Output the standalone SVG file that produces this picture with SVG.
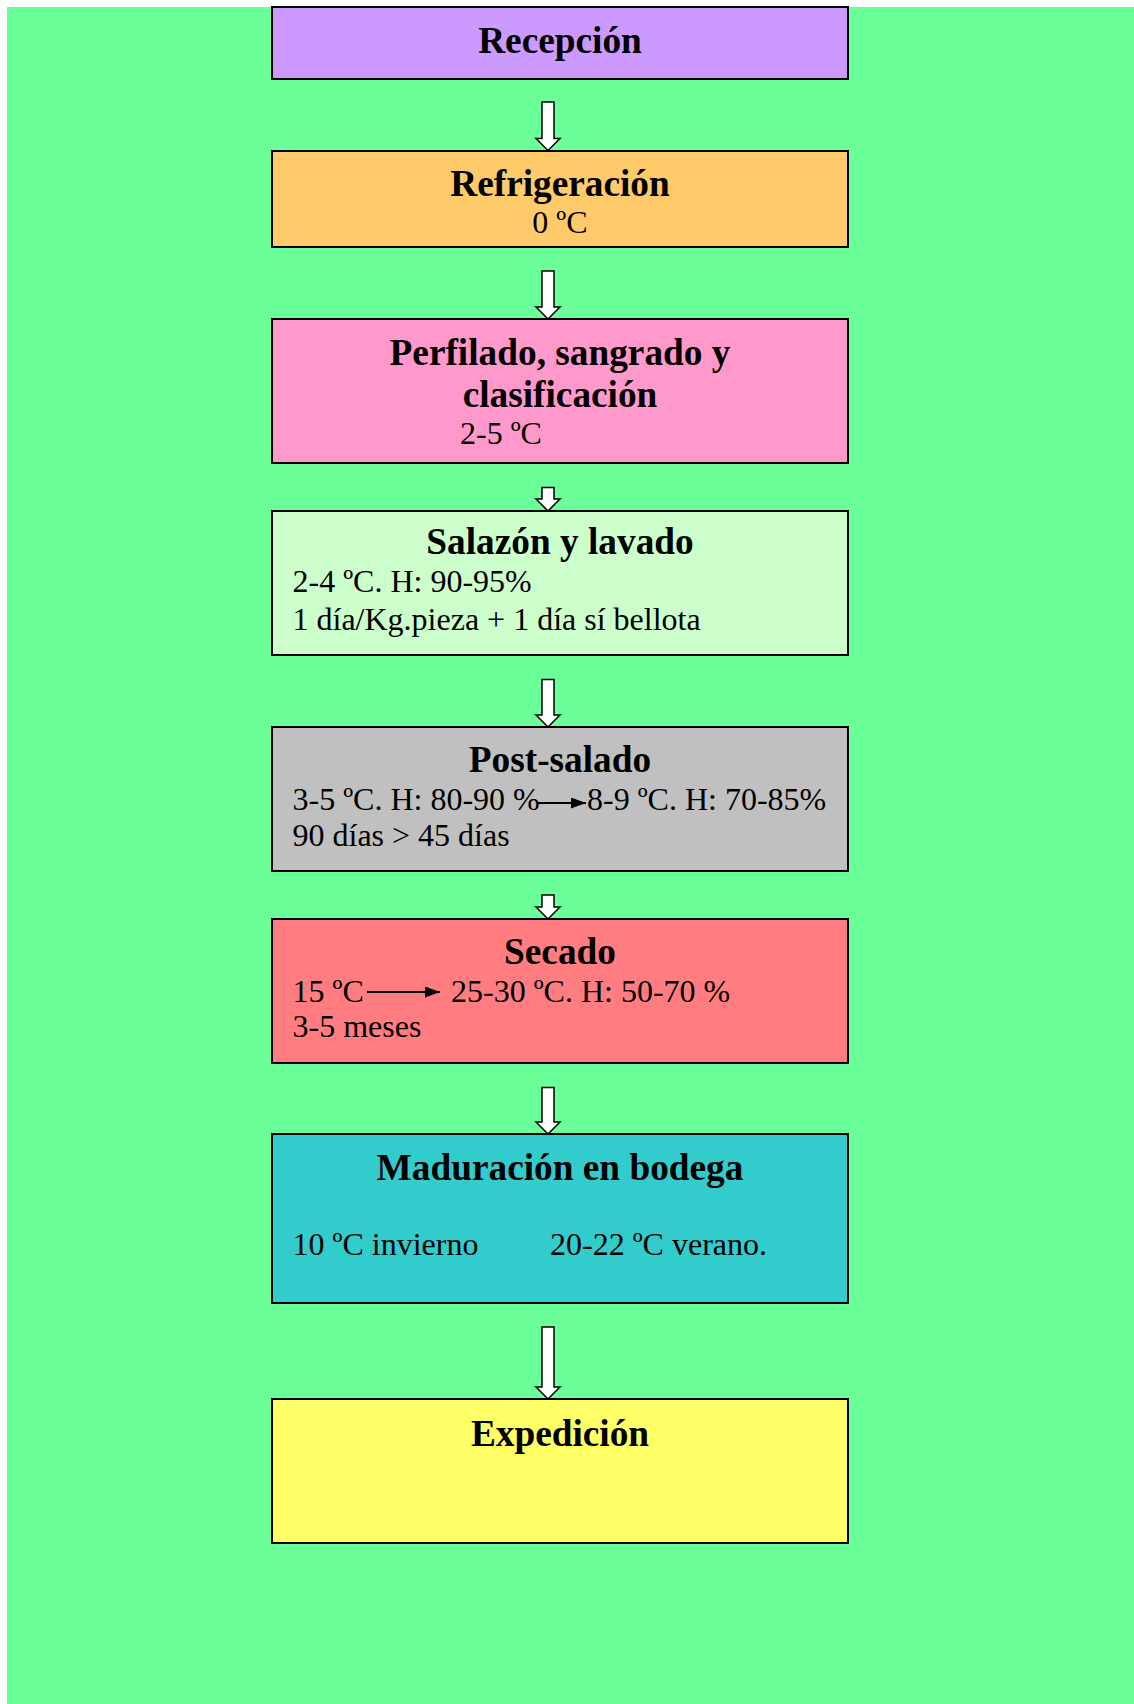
<svg xmlns="http://www.w3.org/2000/svg" width="1134" height="1704" viewBox="0 0 1134 1704">
<defs>
<style>
.box{stroke:#000;stroke-width:2}
.t{font-family:"Liberation Serif","Times New Roman",serif;font-weight:bold;font-size:37.3px;fill:#000;text-anchor:middle}
.r{font-family:"Liberation Serif","Times New Roman",serif;font-size:32px;fill:#000}
.blk{fill:#fff;stroke:#000;stroke-width:1.5;stroke-linejoin:miter}
.ln{stroke:#000;stroke-width:2;fill:none}
</style>
<marker id="ah" viewBox="0 0 10 10" refX="10" refY="5" markerWidth="15" markerHeight="11" markerUnits="userSpaceOnUse" orient="auto" preserveAspectRatio="none">
<path d="M0,0 L10,5 L0,10 Z" fill="#000"/>
</marker>
</defs>
<rect x="7" y="7" width="1127" height="1697" fill="#6BFF9A"/>

<g id="connectors">
<path class="blk" d="M542,102 H554 V138.5 H560 L548,150.5 L536,138.5 H542 Z"/>
<path class="blk" d="M542,271 H554 V307 H560 L548,319 L536,307 H542 Z"/>
<path class="blk" d="M542,487.5 H554 V499 H560 L548,511 L536,499 H542 Z"/>
<path class="blk" d="M542,679.5 H554 V715 H560 L548,727 L536,715 H542 Z"/>
<path class="blk" d="M542,895 H554 V907 H560 L548,919 L536,907 H542 Z"/>
<path class="blk" d="M542,1087.5 H554 V1122 H560 L548,1134 L536,1122 H542 Z"/>
<path class="blk" d="M542,1327 H554 V1387 H560 L548,1399 L536,1387 H542 Z"/>
</g>

<g id="recepcion">
<rect class="box" x="272" y="7" width="576" height="72" fill="#CC99FF"/>
<text class="t" x="560" y="53">Recepción</text>
</g>

<g id="refrigeracion">
<rect class="box" x="272" y="151" width="576" height="96" fill="#FFCA69"/>
<text class="t" x="560" y="196">Refrigeración</text>
<text class="r" x="560" y="233" text-anchor="middle">0 ºC</text>
</g>

<g id="perfilado">
<rect class="box" x="272" y="319" width="576" height="144" fill="#FF99CC"/>
<text class="t" x="560" y="365">Perfilado, sangrado y</text>
<text class="t" x="560" y="406.5">clasificación</text>
<text class="r" x="460" y="444">2-5 ºC</text>
</g>

<g id="salazon">
<rect class="box" x="272" y="511" width="576" height="144" fill="#CCFFCC"/>
<text class="t" x="560" y="554">Salazón y lavado</text>
<text class="r" x="292.5" y="592">2-4 ºC. H: 90-95%</text>
<text class="r" x="292.5" y="630">1 día/Kg.pieza + 1 día sí bellota</text>
</g>

<g id="postsalado">
<rect class="box" x="272" y="727" width="576" height="144" fill="#C0C0C0"/>
<text class="t" x="560" y="772">Post-salado</text>
<text class="r" x="292.5" y="809.5">3-5 ºC. H: 80-90 %</text>
<line class="ln" x1="537" y1="803" x2="586" y2="803" marker-end="url(#ah)"/>
<text class="r" x="587" y="809.5">8-9 ºC. H: 70-85%</text>
<text class="r" x="292.5" y="846">90 días &gt; 45 días</text>
</g>

<g id="secado">
<rect class="box" x="272" y="919" width="576" height="144" fill="#FF7C80"/>
<text class="t" x="560" y="963.5">Secado</text>
<text class="r" x="292.5" y="1001.5">15 ºC</text>
<line class="ln" x1="367" y1="992" x2="440" y2="992" marker-end="url(#ah)"/>
<text class="r" x="451" y="1001.5">25-30 ºC. H: 50-70 %</text>
<text class="r" x="292.5" y="1036.5">3-5 meses</text>
</g>

<g id="maduracion">
<rect class="box" x="272" y="1134" width="576" height="169" fill="#33CCCC"/>
<text class="t" x="560" y="1179.5">Maduración en bodega</text>
<text class="r" x="292.5" y="1255">10 ºC invierno</text>
<text class="r" x="550" y="1255">20-22 ºC verano.</text>
</g>

<g id="expedicion">
<rect class="box" x="272" y="1399" width="576" height="144" fill="#FFFF66"/>
<text class="t" x="560" y="1446">Expedición</text>
</g>
</svg>
